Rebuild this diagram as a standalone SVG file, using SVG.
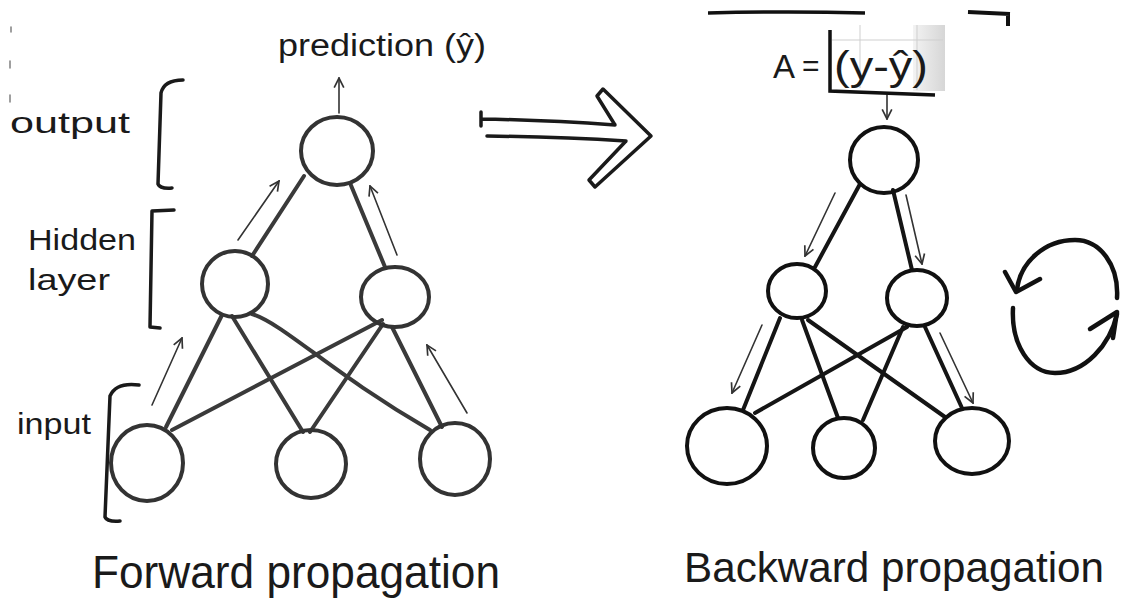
<svg xmlns="http://www.w3.org/2000/svg" width="1126" height="604" viewBox="0 0 1126 604">
<defs>
<style>
.lbl{font-family:"Liberation Sans","DejaVu Sans",sans-serif;fill:#1a1a1a}
.nodeL{fill:none;stroke:#333;stroke-width:4}
.nodeR{fill:none;stroke:#111;stroke-width:4}
.edgeL{fill:none;stroke:#3a3a3a;stroke-width:4;stroke-linecap:round}
.edgeR{fill:none;stroke:#151515;stroke-width:4;stroke-linecap:round}
.thin{fill:none;stroke:#333;stroke-width:1.6;stroke-linecap:round}
.brk{fill:none;stroke:#1a1a1a;stroke-width:3.5;stroke-linecap:round;stroke-linejoin:round}
.bold{fill:none;stroke:#111;stroke-width:4.5;stroke-linecap:round;stroke-linejoin:round}
</style>
<marker id="ah" viewBox="0 0 10 10" refX="9" refY="5" markerWidth="12" markerHeight="12" markerUnits="userSpaceOnUse" orient="auto">
<path d="M1,1 L9,5 L1,9" fill="none" stroke="#333" stroke-width="1.4"/>
</marker>
<linearGradient id="shade" x1="0" y1="0" x2="1" y2="0">
<stop offset="0" stop-color="#f3f3f3"/>
<stop offset="1" stop-color="#d6d6d6"/>
</linearGradient>
</defs>
<rect width="1126" height="604" fill="#fff"/>

<!-- edge ticks -->
<g id="edge-marks" class="thin" stroke="#999">
<path d="M11,27 L11,32 M10,61 L10,68 M10,95 L10,102" stroke="#888"/>
</g>

<!-- labels left -->
<g id="label-output"><text class="lbl" x="10" y="133" font-size="30" textLength="120" lengthAdjust="spacingAndGlyphs">output</text>
<path class="brk" d="M183,80 Q164,80 161,93 L158,184 Q160,189 172,188"/></g>
<g id="label-hidden"><text class="lbl" x="28" y="250" font-size="30" textLength="108" lengthAdjust="spacingAndGlyphs">Hidden</text>
<text class="lbl" x="28" y="290" font-size="30" textLength="82" lengthAdjust="spacingAndGlyphs">layer</text>
<path class="brk" d="M174,210 L152,211 L150,327 L160,328"/></g>
<g id="label-input"><text class="lbl" x="17" y="434" font-size="30" textLength="74" lengthAdjust="spacingAndGlyphs">input</text>
<path class="brk" d="M139,385 Q116,382 110,396 L105,517 Q107,522 120,521"/></g>
<g id="label-prediction"><text class="lbl" x="278" y="56" font-size="31" textLength="208" lengthAdjust="spacingAndGlyphs">prediction (ŷ)</text></g>

<!-- connectors -->
<g id="connectors">
<path class="edgeL" d="M304,176 L252,256"/>
<path class="edgeL" d="M350,183 L385,267"/>
<path class="edgeL" d="M222,315 L166,427"/>
<path class="edgeL" d="M232,316 L303,432"/>
<path class="edgeL" d="M252,314 C285,325 330,372 430,430"/>
<path class="edgeL" d="M382,320 L172,430"/>
<path class="edgeL" d="M383,324 L310,432"/>
<path class="edgeL" d="M392,327 L442,427"/>
<path class="thin" d="M339,113 L339,78" marker-end="url(#ah)"/>
<path class="thin" d="M238,240 L279,181" marker-end="url(#ah)"/>
<path class="thin" d="M397,255 L370,186" marker-end="url(#ah)"/>
<path class="thin" d="M152,405 L182,338" marker-end="url(#ah)"/>
<path class="thin" d="M467,413 L427,345" marker-end="url(#ah)"/>

<path class="edgeR" d="M860,184 L815,267"/>
<path class="edgeR" d="M893,190 L912,270"/>
<path class="edgeR" d="M780,318 L743,410"/>
<path class="edgeR" d="M802,320 L838,418"/>
<path class="edgeR" d="M808,320 L945,417"/>
<path class="edgeR" d="M907,327 L755,413"/>
<path class="edgeR" d="M903,327 L863,420"/>
<path class="edgeR" d="M925,327 L962,408"/>
<path class="thin" d="M887,95 L887,119" marker-end="url(#ah)"/>
<path class="thin" d="M835,193 L805,256" marker-end="url(#ah)"/>
<path class="thin" d="M906,195 L922,264" marker-end="url(#ah)"/>
<path class="thin" d="M762,325 L732,393" marker-end="url(#ah)"/>
<path class="thin" d="M940,333 L973,403" marker-end="url(#ah)"/>
</g>

<!-- left nodes -->
<g id="f-out"><ellipse class="nodeL" cx="337" cy="151" rx="36" ry="34"/></g>
<g id="f-h1"><ellipse class="nodeL" cx="235" cy="284" rx="33" ry="33"/></g>
<g id="f-h2"><ellipse class="nodeL" cx="395" cy="297" rx="34" ry="30"/></g>
<g id="f-i1"><ellipse class="nodeL" cx="147" cy="463" rx="36" ry="38"/></g>
<g id="f-i2"><ellipse class="nodeL" cx="311" cy="464" rx="35" ry="34"/></g>
<g id="f-i3"><ellipse class="nodeL" cx="455" cy="459" rx="35" ry="36"/></g>

<!-- big arrow -->
<g id="big-arrow">
<path d="M481,112 L481,126 M481,119 Q545,120 615,125 M487,136 Q560,137 626,141" class="brk" stroke-width="3.5"/>
<path d="M615,125 L597,96 L603,89 L651,136 L595,187 L589,180 L626,141" fill="none" stroke="#1a1a1a" stroke-width="3.5" stroke-linejoin="round"/>
</g>

<!-- right: formula -->
<g id="formula">
<path d="M708,13 Q790,11 865,13" fill="none" stroke="#111" stroke-width="3.5"/>
<path d="M968,12 L1010,14 M1008,12 L1008,26" fill="none" stroke="#111" stroke-width="4"/>
<rect x="913" y="25" width="32" height="66" fill="url(#shade)"/>
<path d="M832,40 L943,40 M860,25 L860,88 M917,25 L917,90" stroke="#cfcfcf" stroke-width="1" fill="none"/>
<text class="lbl" x="773" y="78" font-size="33">A</text>
<text class="lbl" x="802" y="76" font-size="30">=</text>
<path d="M830,30 L830,91 L935,95" fill="none" stroke="#111" stroke-width="3.5"/>
<text class="lbl" x="834" y="80" font-size="40" textLength="94" lengthAdjust="spacingAndGlyphs">(y-ŷ)</text>
</g>

<!-- right nodes -->
<g id="b-out"><ellipse class="nodeR" cx="884" cy="160" rx="34" ry="33"/></g>
<g id="b-h1"><ellipse class="nodeR" cx="797" cy="291" rx="29" ry="27"/></g>
<g id="b-h2"><ellipse class="nodeR" cx="917" cy="298" rx="30" ry="28"/></g>
<g id="b-i1"><ellipse class="nodeR" cx="727" cy="446" rx="40" ry="38"/></g>
<g id="b-i2"><ellipse class="nodeR" cx="844" cy="448" rx="31" ry="30"/></g>
<g id="b-i3"><ellipse class="nodeR" cx="972" cy="441" rx="37" ry="33"/></g>

<!-- cycle -->
<g id="cycle">
<path class="bold" d="M1117,298 C1119,265 1100,240 1075,240 C1045,240 1020,262 1017,290"/>
<path class="bold" d="M1005,272 L1016,292 L1040,279" stroke-width="5.5"/>
<path class="bold" d="M1013,308 C1011,345 1030,373 1055,373 C1085,373 1110,345 1117,314"/>
<path class="bold" d="M1090,329 L1117,312 L1113,338" stroke-width="5.5"/>
</g>

<!-- titles -->
<g id="title-forward"><text class="lbl" x="92" y="588" font-size="46" textLength="408" lengthAdjust="spacingAndGlyphs">Forward propagation</text></g>
<g id="title-backward"><text class="lbl" x="684" y="582" font-size="42" textLength="420" lengthAdjust="spacingAndGlyphs">Backward propagation</text></g>
</svg>
